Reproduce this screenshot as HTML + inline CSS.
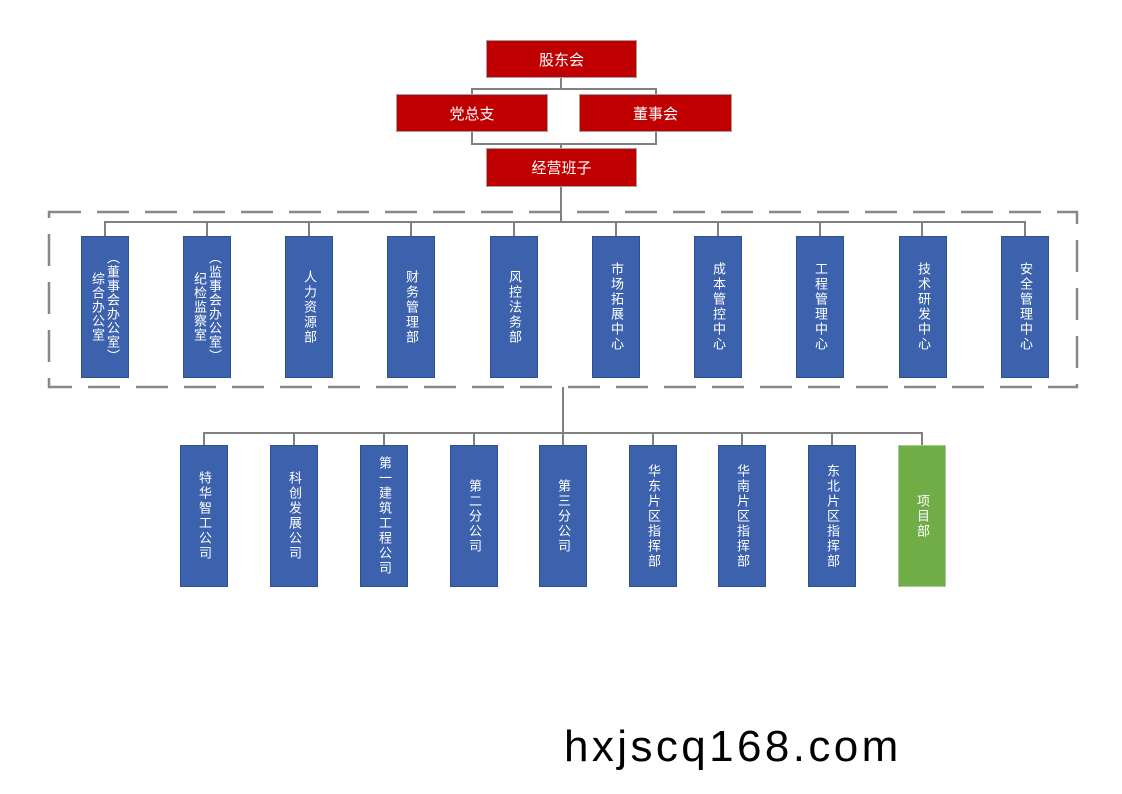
<!DOCTYPE html>
<html><head><meta charset="utf-8"><style>
body{margin:0;width:1122px;height:794px;background:#fff;position:relative;overflow:hidden;font-family:"Liberation Sans","Noto Sans CJK SC",sans-serif}
.r{position:absolute;background:#c00000;border:1px solid #a0a0a0;box-sizing:border-box;color:#fff;font-size:15px;display:flex;align-items:center;justify-content:center}
.b{position:absolute;background:#3c62ad;border:1px solid #2f528f;box-sizing:border-box;color:#fff;font-size:13px;display:flex;align-items:center;justify-content:center;width:48px;height:142px}
.g{background:#70ad47;border-color:#a9c89a}
.v{writing-mode:vertical-rl;line-height:20px;letter-spacing:2px;text-align:center}
svg{position:absolute;left:0;top:0}
.w{position:absolute;left:564px;top:722px;font-size:44px;color:#000;letter-spacing:3.4px}
</style></head><body>
<svg width="1122" height="794">
<g stroke="#808080" stroke-width="2" fill="none">
<path d="M561 78V89M472 95V89H656V95M472 132V144H656V132M561 144V148M561 187V222M105 237V222H1025V237"/>
<path d="M207 222V237M309 222V237M411 222V237M514 222V237M616 222V237M718 222V237M820 222V237M922 222V237"/>
<path d="M563 387V445M204 445V433H922V445M294 433V445M384 433V445M474 433V445M653 433V445M742 433V445M832 433V445"/>
</g>
<rect x="49" y="212" width="1028" height="175" fill="none" stroke="#888" stroke-width="2.5" stroke-dasharray="32 16"/>
</svg>
<div class="r" style="left:486px;top:40px;width:151px;height:38px">股东会</div>
<div class="r" style="left:396px;top:94px;width:152px;height:38px">党总支</div>
<div class="r" style="left:579px;top:94px;width:153px;height:38px">董事会</div>
<div class="r" style="left:486px;top:148px;width:151px;height:39px">经营班子</div>

<div class="b" style="left:81px;top:236px"><span class="v" style="letter-spacing:1px;line-height:15px">（董事会办公室）<br>综合办公室</span></div>
<div class="b" style="left:183px;top:236px"><span class="v" style="letter-spacing:1px;line-height:15px">（监事会办公室）<br>纪检监察室</span></div>
<div class="b" style="left:285px;top:236px"><span class="v">人力资源部</span></div>
<div class="b" style="left:387px;top:236px"><span class="v">财务管理部</span></div>
<div class="b" style="left:490px;top:236px"><span class="v">风控法务部</span></div>
<div class="b" style="left:592px;top:236px"><span class="v">市场拓展中心</span></div>
<div class="b" style="left:694px;top:236px"><span class="v">成本管控中心</span></div>
<div class="b" style="left:796px;top:236px"><span class="v">工程管理中心</span></div>
<div class="b" style="left:899px;top:236px"><span class="v">技术研发中心</span></div>
<div class="b" style="left:1001px;top:236px"><span class="v">安全管理中心</span></div>

<div class="b" style="left:180px;top:445px"><span class="v">特华智工公司</span></div>
<div class="b" style="left:270px;top:445px"><span class="v">科创发展公司</span></div>
<div class="b" style="left:360px;top:445px"><span class="v">第一建筑工程公司</span></div>
<div class="b" style="left:450px;top:445px"><span class="v">第二分公司</span></div>
<div class="b" style="left:539px;top:445px"><span class="v">第三分公司</span></div>
<div class="b" style="left:629px;top:445px"><span class="v">华东片区指挥部</span></div>
<div class="b" style="left:718px;top:445px"><span class="v">华南片区指挥部</span></div>
<div class="b" style="left:808px;top:445px"><span class="v">东北片区指挥部</span></div>
<div class="b g" style="left:898px;top:445px"><span class="v">项目部</span></div>

<div class="w">hxjscq168.com</div>
</body></html>
